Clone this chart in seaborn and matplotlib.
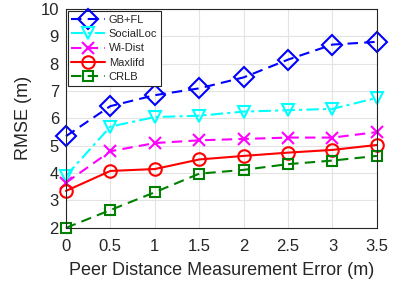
import numpy as np
import pandas as pd
import matplotlib
matplotlib.use("Agg")
import matplotlib.pyplot as plt
import seaborn as sns

# erreur de mesure de distance (m)
erreur = [0, 0.5, 1, 1.5, 2, 2.5, 3, 3.5]

gb_fl = [5.35, 6.45, 6.85, 7.1, 7.5, 8.15, 8.7, 8.8]
social_loc = [3.9, 5.7, 6.05, 6.1, 6.25, 6.3, 6.35, 6.75]
wi_dist = [3.65, 4.8, 5.1, 5.2, 5.25, 5.3, 5.3, 5.5]
maxlifd = [3.35, 4.08, 4.15, 4.5, 4.63, 4.75, 4.85, 5.03]
crlb = [2.0, 2.65, 3.3, 3.98, 4.12, 4.33, 4.46, 4.63]

noms = ['GB+FL', 'SocialLoc', 'Wi-Dist', 'Maxlifd', 'CRLB']

sns.set_style("white")
plt.rcParams['font.family'] = ['Liberation Sans', 'DejaVu Sans']

df = pd.DataFrame({'erreur': erreur * 5,
                   'rmse': gb_fl + social_loc + wi_dist + maxlifd + crlb,
                   'methode': [n for n in noms for _ in erreur]})

couleurs = ['#0000ff', '#00ffff', '#ff00ff', '#ff0000', '#008000']
styles = [(0, (5, 3)), (0, (6, 2, 1.5, 2)), (0, (5, 3)), '-', (0, (5, 3))]
marqueurs = ['D', 'v', 'x', 'o', 's']
tailles = [10, 8, 8, 9, 7]

fig = plt.figure(figsize=(4.07, 2.91), dpi=100)
ax = fig.add_axes([0.162, 0.217, 0.764, 0.752])

for nom, c, ls, m, ms in zip(noms, couleurs, styles, marqueurs, tailles):
    sub = df[df['methode'] == nom]
    sns.lineplot(data=sub, x='erreur', y='rmse', ax=ax, color=c, linestyle=ls,
                 marker=m, markersize=ms, markerfacecolor='none',
                 markeredgecolor=c, markeredgewidth=1.5, linewidth=1.5,
                 label=nom, clip_on=False)

ax.set_xlim(0, 3.5)
ax.set_ylim(2, 10)
ax.set_xticks(erreur)
ax.set_xticklabels(['0', '0.5', '1', '1.5', '2', '2.5', '3', '3.5'])
ax.set_yticks(range(2, 11))
ax.tick_params(labelsize=12, direction='in', length=3, colors='#262626')
ax.tick_params(axis='x', pad=8)
ax.tick_params(axis='y', pad=5)
ax.grid(True, color='#e3e3e3', linewidth=0.8)
for s in ax.spines.values():
    s.set_color('#262626')
    s.set_linewidth(0.8)

ax.set_xlabel('Peer Distance Measurement Error (m)', fontsize=13, color='#262626', labelpad=6)
ax.set_ylabel('RMSE (m)', fontsize=13, color='#262626', labelpad=6)

leg = ax.legend(loc='upper left', fontsize=8, handlelength=3.0, borderaxespad=0.15,
                labelspacing=0.4, fancybox=False, framealpha=1, edgecolor='#262626',
                borderpad=0.35, handletextpad=0.35)
leg.get_frame().set_linewidth(0.8)

fig.savefig('out.png', dpi=100)
